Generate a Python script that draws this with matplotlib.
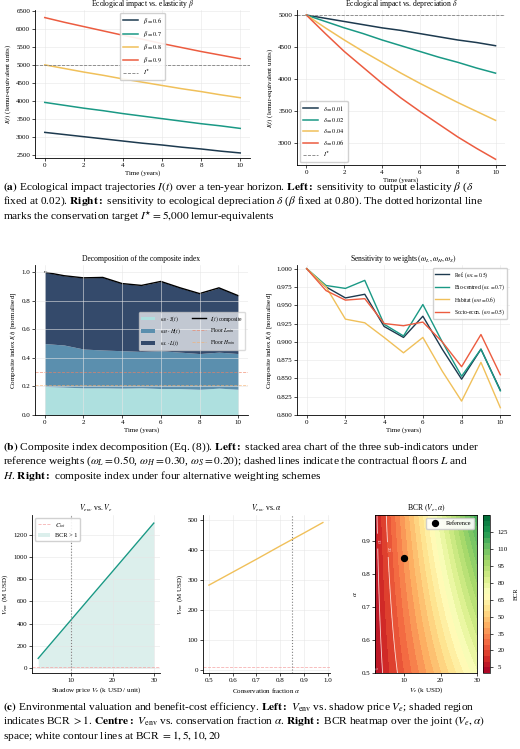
import numpy as np
import matplotlib
matplotlib.use("Agg")
import matplotlib.pyplot as plt

plt.rcParams['font.family'] = ['Liberation Serif', 'DejaVu Serif']
plt.rcParams['mathtext.fontset'] = 'stix'
plt.rcParams['font.size'] = 5
plt.rcParams['axes.linewidth'] = 0.6

# ---------------- data ----------------
t = list(range(11))
beta_labels = ["0.6", "0.7", "0.8", "0.9"]
I_beta_06 = [3130, 3070, 3010, 2950, 2890, 2830, 2780, 2720, 2670, 2610, 2560]
I_beta_07 = [3960, 3880, 3800, 3730, 3650, 3580, 3510, 3440, 3370, 3310, 3240]
I_beta_08 = [5000, 4900, 4800, 4710, 4610, 4520, 4430, 4340, 4260, 4170, 4090]
I_beta_09 = [6310, 6180, 6060, 5940, 5820, 5710, 5590, 5480, 5370, 5270, 5170]
delta_labels = ["0.01", "0.02", "0.04", "0.06"]
I_d_001 = [5000, 4950, 4900, 4850, 4800, 4760, 4710, 4660, 4610, 4570, 4520]
I_d_002 = [5000, 4900, 4800, 4710, 4610, 4520, 4430, 4340, 4260, 4170, 4090]
I_d_004 = [5000, 4800, 4610, 4430, 4260, 4090, 3930, 3780, 3630, 3490, 3350]
I_d_006 = [5000, 4710, 4430, 4180, 3930, 3700, 3490, 3290, 3090, 2910, 2740]
I_star = 5000

comp_S = [0.200, 0.195, 0.190, 0.190, 0.188, 0.190, 0.185, 0.185, 0.180, 0.188, 0.180]
comp_SH = [0.500, 0.490, 0.462, 0.455, 0.450, 0.445, 0.450, 0.440, 0.430, 0.440, 0.430]
comp_total = [1.000, 0.975, 0.960, 0.963, 0.920, 0.907, 0.935, 0.890, 0.850, 0.890, 0.835]
floor_L = 0.30
floor_H = 0.21

w_ref = [1.000, 0.975, 0.960, 0.965, 0.921, 0.906, 0.935, 0.890, 0.849, 0.890, 0.834]
w_bio = [1.000, 0.977, 0.973, 0.984, 0.924, 0.908, 0.951, 0.900, 0.853, 0.890, 0.833]
w_hab = [1.000, 0.975, 0.931, 0.926, 0.906, 0.885, 0.906, 0.860, 0.819, 0.872, 0.810]
w_soc = [1.000, 0.970, 0.957, 0.959, 0.925, 0.922, 0.927, 0.900, 0.866, 0.910, 0.855]

Ve = [2, 5, 10, 15, 20, 25, 30]
Venv_Ve = [87, 218, 436, 654, 871, 1089, 1307]
C_tot = 10
alpha = [0.5, 0.6, 0.7, 0.8, 0.9, 0.98]
Venv_alpha = [282, 325, 368, 412, 455, 490]
Ve_ref, alpha_ref = 10, 0.85
bcr_scale, bcr_exp = 2.45, 0.7

C_DARK = "#1d3a4f"
C_GREEN = "#1a9985"
C_YEL = "#f0c05a"
C_RED = "#ec5c40"

fig = plt.figure(figsize=(5.2, 7.49), dpi=100)

def style(ax):
    ax.grid(True, color="#e6e6e6", lw=0.4)
    ax.spines['top'].set_visible(False)
    ax.spines['right'].set_visible(False)
    ax.tick_params(length=2, width=0.5, pad=1.5, labelsize=5)

W, H = 520, 749
def axpx(x0, y0, x1, y1):
    return fig.add_axes([x0 / W, 1 - y1 / H, (x1 - x0) / W, (y1 - y0) / H])

# ---- (a) left
ax = axpx(35, 10, 250, 158)
for ys, lab, c in zip([I_beta_06, I_beta_07, I_beta_08, I_beta_09], beta_labels,
                      [C_DARK, C_GREEN, C_YEL, C_RED]):
    ax.plot(t, ys, color=c, lw=1.1, label=r"$\beta = %s$" % lab)
ax.axhline(I_star, color="gray", ls="--", lw=0.6, label=r"$I^{\star}$")
ax.set_ylim(2420, 6520)
ax.set_xlim(-0.5, 10.5)
ax.set_title(r"Ecological impact vs. elasticity $\beta$", fontsize=5.5, pad=3)
ax.set_xlabel("Time (years)", labelpad=2)
ax.set_ylabel(r"$I(t)$ (lemur-equivalent units)", labelpad=2)
ax.legend(loc="upper center", fontsize=4.5, framealpha=0.9, handlelength=2.5)
style(ax)

# ---- (a) right
ax = axpx(297, 10, 505, 165)
for ys, lab, c in zip([I_d_001, I_d_002, I_d_004, I_d_006], delta_labels,
                      [C_DARK, C_GREEN, C_YEL, C_RED]):
    ax.plot(t, ys, color=c, lw=1.1, label=r"$\delta = %s$" % lab)
ax.axhline(I_star, color="gray", ls="--", lw=0.6, label=r"$I^{\star}$")
ax.set_ylim(2650, 5080)
ax.set_xlim(-0.5, 10.5)
ax.set_yticks([3000, 3500, 4000, 4500, 5000])
ax.set_title(r"Ecological impact vs. depreciation $\delta$", fontsize=5.5, pad=3)
ax.set_xlabel("Time (years)", labelpad=2)
ax.set_ylabel(r"$I(t)$ (lemur-equivalent units)", labelpad=2)
ax.legend(loc="lower left", fontsize=4.5, framealpha=0.9, handlelength=2.5)
style(ax)

# ---- (b) left
ax = axpx(35, 265, 248, 415)
tot = np.array(comp_total)
ax.fill_between(t, 0, comp_S, color="#aee0df", lw=0, label=r"$\omega_S \cdot S(t)$")
ax.fill_between(t, comp_S, comp_SH, color="#5b8fae", lw=0, label=r"$\omega_H \cdot H(t)$")
ax.fill_between(t, comp_SH, tot, color="#344a6b", lw=0, label=r"$\omega_L \cdot L(t)$")
ax.plot(t, tot, color="black", lw=1.0, label=r"$I(t)$ composite")
ax.axhline(floor_L, color="#f08060", ls="--", lw=0.6, alpha=0.7, label=r"Floor $L_{min}$")
ax.axhline(floor_H, color="#f5b070", ls="--", lw=0.6, alpha=0.7, label=r"Floor $H_{min}$")
ax.set_ylim(0, 1.05)
ax.set_xlim(-0.5, 10.5)
ax.set_title("Decomposition of the composite index", fontsize=5.5, pad=3)
ax.set_xlabel("Time (years)", labelpad=2)
ax.set_ylabel(r"Composite index $I(t)$ [normalised]", labelpad=2)
ax.legend(loc="center right", bbox_to_anchor=(1.0, 0.56), ncol=2, fontsize=4,
          framealpha=0.7, handlelength=2.5)
style(ax)
ax.set_axisbelow(False)

# ---- (b) right
ax = axpx(297, 265, 510, 415)
ax.plot(t, w_ref, color=C_DARK, lw=1.0, label=r"Ref. ($\omega_L = 0.5$)")
ax.plot(t, w_bio, color=C_GREEN, lw=1.0, label=r"Bio-centred ($\omega_L = 0.7$)")
ax.plot(t, w_hab, color=C_YEL, lw=1.0, label=r"Habitat ($\omega_H = 0.6$)")
ax.plot(t, w_soc, color=C_RED, lw=1.0, label=r"Socio-econ. ($\omega_S = 0.5$)")
ax.set_ylim(0.8, 1.005)
ax.set_xlim(-0.5, 10.5)
ax.set_title(r"Sensitivity to weights $(\omega_L, \omega_H, \omega_S)$", fontsize=5.5, pad=3)
ax.set_xlabel("Time (years)", labelpad=2)
ax.set_ylabel(r"Composite index $I(t)$ [normalised]", labelpad=2)
ax.legend(loc="upper right", fontsize=4, framealpha=0.9, handlelength=2.5)
style(ax)

# ---- (c) left
ax = axpx(32, 515, 160, 673)
ax.plot(Ve, Venv_Ve, color=C_GREEN, lw=1.0)
ax.axhline(C_tot, color="#f4a0a0", ls="--", lw=0.6, alpha=0.8, label=r"$C_{tot}$")
ax.fill_between(Ve, 0, Venv_Ve, color=C_GREEN, alpha=0.15, lw=0, label="BCR > 1")
ax.axvline(Ve_ref, color="gray", ls=":", lw=0.8)
ax.set_ylim(-45, 1380)
ax.set_xlim(0.5, 31.5)
ax.set_title(r"$V_{env}$ vs. $V_e$", fontsize=5.5, pad=3)
ax.set_xlabel(r"Shadow price $V_e$ (k USD / unit)", labelpad=2)
ax.set_ylabel(r"$V_{env}$ (M USD)", labelpad=2)
ax.legend(loc="upper left", fontsize=4.5, framealpha=0.9)
style(ax)

# ---- (c) centre
ax = axpx(203, 515, 330, 673)
ax.plot(alpha, Venv_alpha, color=C_YEL, lw=1.0)
ax.axhline(C_tot, color="#f4a0a0", ls="--", lw=0.6, alpha=0.8)
ax.axvline(alpha_ref, color="gray", ls=":", lw=0.8)
ax.set_ylim(-10, 515)
ax.set_xlim(0.475, 1.01)
ax.set_title(r"$V_{env}$ vs. $\alpha$", fontsize=5.5, pad=3)
ax.set_xlabel(r"Conservation fraction $\alpha$", labelpad=2)
ax.set_ylabel(r"$V_{env}$ (M USD)", labelpad=2)
style(ax)

# ---- (c) right heatmap
ax = axpx(375, 515, 477, 673)
cax = axpx(483, 515, 490, 673)
vg, ag = np.meshgrid(np.linspace(2, 30, 200), np.linspace(0.5, 0.98, 200))
bcr = vg * bcr_scale * (ag / 0.5) ** bcr_exp
cf = ax.contourf(vg, ag, bcr, levels=np.linspace(0, 140, 29), cmap="RdYlGn")
cs = ax.contour(vg, ag, bcr, levels=[1, 5, 10, 20], colors="white", linewidths=0.6, alpha=0.8)
ax.clabel(cs, fontsize=3.5, fmt="%d")
ax.scatter([Ve_ref], [alpha_ref], color="black", s=18, zorder=5, label="Reference")
ax.set_xlim(2, 30)
ax.set_ylim(0.5, 0.98)
ax.set_title(r"BCR $(V_e, \alpha)$", fontsize=5.5, pad=3)
ax.set_xlabel(r"$V_e$ (k USD)", labelpad=2)
ax.set_ylabel(r"$\alpha$", labelpad=2)
ax.legend(loc="upper right", fontsize=4.5, framealpha=0.9)
ax.tick_params(length=2, width=0.5, pad=1.5, labelsize=5)
cb = fig.colorbar(cf, cax=cax, ticks=[5, 20, 35, 50, 65, 80, 95, 110, 125])
cb.ax.tick_params(labelsize=5, length=2, width=0.5)
cb.set_label("BCR", fontsize=4.5)
cb.outline.set_linewidth(0.5)

# ---- captions
cs_kw = dict(fontsize=8.2, va="top", ha="left")
def cap(y, lines):
    for i, ln in enumerate(lines):
        fig.text(3 / W, 1 - (y + i * 14.5) / H, ln, **cs_kw)

cap(180, [r"$\mathbf{(a)}$ Ecological impact trajectories $I(t)$ over a ten-year horizon. $\mathbf{Left:}$ sensitivity to output elasticity $\beta$ ($\delta$",
          r"fixed at 0.02). $\mathbf{Right:}$ sensitivity to ecological depreciation $\delta$ ($\beta$ fixed at 0.80). The dotted horizontal line",
          r"marks the conservation target $I^{\star} = 5{,}000$ lemur-equivalents"])
cap(440, [r"$\mathbf{(b)}$ Composite index decomposition (Eq. (8)). $\mathbf{Left:}$ stacked area chart of the three sub-indicators under",
          r"reference weights ($\omega_L = 0.50$, $\omega_H = 0.30$, $\omega_S = 0.20$); dashed lines indicate the contractual floors $L$ and",
          r"$H$. $\mathbf{Right:}$ composite index under four alternative weighting schemes"])
cap(700, [r"$\mathbf{(c)}$ Environmental valuation and benefit-cost efficiency. $\mathbf{Left:}$ $V_{\rm env}$ vs. shadow price $V_e$; shaded region",
          r"indicates BCR $> 1$. $\mathbf{Centre:}$ $V_{\rm env}$ vs. conservation fraction $\alpha$. $\mathbf{Right:}$ BCR heatmap over the joint $(V_e, \alpha)$",
          r"space; white contour lines at BCR $= 1, 5, 10, 20$"])

fig.savefig("out.png", dpi=100)
